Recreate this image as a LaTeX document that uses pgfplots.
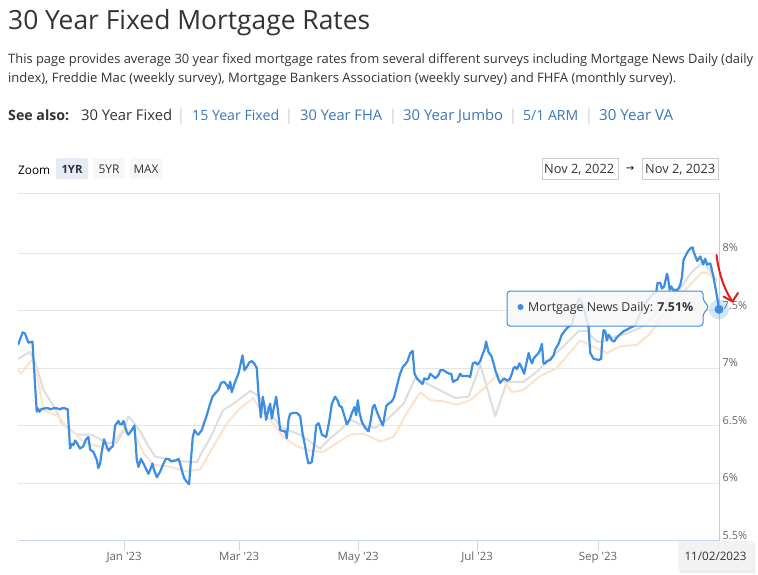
\documentclass[border=0pt]{standalone}
\usepackage{pgfplots}
\pgfplotsset{compat=1.18}
\usepackage{graphicx}
\usepackage{fontspec}
\setmainfont{Open Sans}
\newfontfamily\dejavu{DejaVu Sans}
\definecolor{mndblue}{RGB}{61,142,226}
\definecolor{fmgray}{RGB}{222,222,222}
\definecolor{mbaorange}{RGB}{253,226,204}
\definecolor{txt}{RGB}{51,51,51}
\definecolor{linkblue}{RGB}{60,120,180}
\definecolor{sepgray}{RGB}{204,204,204}
\definecolor{axisline}{RGB}{204,214,235}
\definecolor{gridc}{RGB}{230,230,230}
\definecolor{lbl}{RGB}{102,102,102}
\definecolor{btnsel}{RGB}{230,235,245}
\definecolor{btn}{RGB}{247,247,247}
\definecolor{tipfill}{RGB}{247,247,247}
\definecolor{datebox}{RGB}{242,242,242}
\definecolor{arrowred}{RGB}{222,30,30}
\newcommand{\fw}[2]{\resizebox{#1bp}{!}{#2}}
\pgfplotstableread{
x y
-54.4 7.20
-52.0 7.31
-50.8 7.30
-49.1 7.22
-47.0 7.23
-44.8 6.62
-44.3 6.65
-43.4 6.62
-42.7 6.64
-40.5 6.65
-38.8 6.65
-38.0 6.64
-36.2 6.65
-34.5 6.65
-32.8 6.64
-32.0 6.65
-30.3 6.65
-28.9 6.64
-27.7 6.30
-26.8 6.34
-26.0 6.33
-25.1 6.37
-24.3 6.35
-22.6 6.30
-20.9 6.32
-19.5 6.38
-18.3 6.40
-17.4 6.29
-15.7 6.27
-14.0 6.20
-13.2 6.13
-12.3 6.17
-11.5 6.27
-10.3 6.38
-9.2 6.33
-8.0 6.28
-7.2 6.30
-5.8 6.32
-4.6 6.50
-2.9 6.54
-2.1 6.51
-1.2 6.51
-0.3 6.54
0.5 6.49
1.4 6.44
2.2 6.42
3.9 6.46
5.3 6.50
6.5 6.20
7.4 6.14
8.6 6.21
9.9 6.17
11.6 6.11
12.5 6.08
13.7 6.13
14.5 6.17
15.4 6.11
16.8 6.05
18.5 6.10
20.2 6.17
21.5 6.21
22.7 6.21
23.9 6.19
25.3 6.19
27.0 6.20
27.9 6.21
28.7 6.17
29.9 6.09
30.9 6.04
32.1 6.01
33.3 5.99
34.4 6.23
35.2 6.40
36.1 6.46
37.3 6.43
38.1 6.42
39.8 6.46
41.0 6.52
42.4 6.59
44.1 6.69
45.3 6.75
46.7 6.78
48.4 6.81
49.7 6.87
51.3 6.88
52.7 6.85
53.5 6.82
54.4 6.88
55.2 6.79
56.9 6.88
58.6 6.95
59.8 7.04
60.7 7.11
61.7 6.98
62.9 7.01
64.3 7.05
65.5 7.06
66.7 7.04
68.0 7.00
68.9 6.78
70.1 6.57
71.1 6.75
72.0 6.66
72.8 6.55
74.0 6.64
74.9 6.69
75.7 6.56
76.6 6.64
78.0 6.75
78.8 6.64
80.0 6.46
81.7 6.45
82.6 6.45
83.4 6.39
84.3 6.55
85.1 6.60
86.8 6.61
88.6 6.61
90.3 6.58
91.5 6.43
92.8 6.32
93.7 6.23
94.5 6.17
96.2 6.18
97.6 6.35
98.5 6.50
99.7 6.52
100.5 6.48
101.4 6.42
103.6 6.40
105.3 6.55
106.5 6.69
108.2 6.75
109.4 6.72
110.4 6.67
111.6 6.66
113.0 6.58
114.2 6.51
115.6 6.55
116.8 6.61
118.1 6.66
119.0 6.59
119.8 6.72
120.7 6.61
121.9 6.53
123.6 6.48
125.3 6.45
126.5 6.55
127.5 6.66
128.4 6.68
129.6 6.62
131.3 6.55
132.7 6.50
133.5 6.58
134.4 6.67
135.6 6.69
137.3 6.71
138.5 6.75
139.8 6.84
141.5 6.95
142.9 7.01
144.1 7.03
145.3 7.06
146.7 7.13
147.9 7.15
148.9 6.95
150.1 6.91
151.8 6.88
153.0 6.86
153.9 6.91
155.2 6.90
156.1 6.91
156.9 6.95
158.3 6.93
159.5 6.91
161.2 6.94
162.1 6.98
163.8 6.98
165.5 6.96
166.8 6.95
167.7 6.95
168.6 6.88
169.7 6.89
170.9 6.90
172.3 6.95
173.2 6.93
174.0 6.93
175.4 6.93
176.6 6.93
177.4 6.92
178.8 7.04
180.0 7.05
181.2 7.03
182.6 7.06
183.8 7.12
184.8 7.16
185.6 7.23
186.8 7.14
188.4 7.10
189.4 7.04
190.5 6.97
192.0 6.90
192.8 6.87
193.7 6.89
194.9 6.91
196.2 6.89
197.6 6.90
198.8 6.95
199.7 7.00
200.5 7.01
201.4 6.99
202.7 7.04
203.9 7.00
205.1 6.95
206.5 7.06
207.4 7.13
208.2 7.08
209.1 7.04
209.9 7.08
211.3 7.11
212.5 7.13
213.3 7.16
214.2 7.21
215.0 7.04
215.9 7.04
216.8 7.06
218.5 7.07
220.2 7.11
221.0 7.16
222.7 7.21
224.4 7.29
226.2 7.33
227.9 7.36
229.6 7.38
231.3 7.50
233.0 7.60
234.5 7.58
236.0 7.50
237.4 7.40
238.1 7.36
239.0 7.13
240.7 7.08
243.3 7.07
244.6 7.08
245.0 7.21
245.8 7.33
246.7 7.32
247.5 7.24
248.4 7.29
249.2 7.27
250.1 7.24
251.3 7.23
252.3 7.26
253.5 7.28
254.7 7.30
256.1 7.32
257.4 7.33
259.5 7.35
262.1 7.37
264.6 7.48
268.0 7.58
271.5 7.65
272.8 7.66
273.5 7.74
274.9 7.74
275.7 7.69
276.9 7.71
278.3 7.82
278.8 7.79
279.7 7.68
280.5 7.71
281.4 7.68
282.6 7.68
283.8 7.68
285.1 7.72
286.0 7.79
286.8 7.94
287.7 7.97
288.9 8.01
290.3 8.04
291.5 8.05
291.8 8.02
293.8 7.93
295.4 7.97
296.9 7.90
297.9 7.95
298.9 7.90
300.5 7.91
302.1 7.80
304.1 7.61
305.0 7.51
}\mnd
\pgfplotstableread{
x y
-54.4 7.08
-48.2 7.14
-44.8 7.01
-41.4 6.81
-35.4 6.65
-32.0 6.52
-29.4 6.49
-24.3 6.42
-16.6 6.42
-13.2 6.39
-8.9 6.35
-3.8 6.35
-0.3 6.45
2.2 6.58
4.8 6.53
8.2 6.45
12.5 6.32
15.9 6.23
21.9 6.21
28.7 6.19
37.3 6.18
39.0 6.24
44.1 6.39
50.6 6.63
56.1 6.69
64.6 6.80
68.0 6.77
73.2 6.66
77.4 6.55
80.9 6.48
90.3 6.42
100.5 6.30
105.7 6.39
110.8 6.46
115.9 6.55
122.7 6.50
128.7 6.48
134.7 6.55
143.3 6.69
149.2 6.91
153.5 6.88
163.8 6.79
169.7 6.74
176.6 6.75
182.6 7.03
190.3 6.58
196.2 6.88
204.8 6.88
212.5 6.98
216.8 7.06
225.3 7.19
233.0 7.32
237.3 7.32
242.4 7.23
245.8 7.23
250.9 7.27
257.8 7.30
264.6 7.35
271.5 7.45
278.3 7.58
285.1 7.69
290.3 7.82
297.1 7.93
302.2 7.79
304.0 7.76
}\fmac
\pgfplotstableread{
x y
-54.4 7.00
-53.0 6.95
-47.4 7.07
-45.6 7.03
-41.4 6.64
-38.0 6.61
-33.7 6.58
-29.4 6.48
-25.1 6.43
-21.7 6.37
-16.6 6.33
-12.3 6.32
-7.2 6.28
-4.6 6.37
-0.3 6.47
4.8 6.45
9.9 6.26
15.0 6.16
23.6 6.14
32.1 6.10
39.0 6.12
42.4 6.22
52.7 6.52
59.5 6.65
66.3 6.74
69.7 6.64
74.9 6.55
81.7 6.40
88.6 6.32
95.4 6.28
102.2 6.27
107.4 6.33
115.9 6.42
122.7 6.43
131.3 6.36
138.1 6.40
145.0 6.61
151.8 6.79
156.9 6.72
163.8 6.71
170.6 6.68
177.4 6.72
184.3 6.82
192.0 6.95
198.8 6.79
204.8 6.81
213.3 6.93
221.9 7.00
233.8 7.24
247.5 7.13
254.4 7.19
262.9 7.20
269.7 7.30
276.0 7.45
283.0 7.60
290.0 7.72
296.0 7.83
300.0 7.82
303.0 7.75
}\mba
\begin{document}
\begin{tikzpicture}
\useasboundingbox (0,0) rectangle (758bp,-575bp);
\fill[white] (0,0) rectangle (758bp,-575bp);
% title and text
\node[anchor=base west, inner sep=0, text=txt] at (8bp,-30bp) {\fw{362}{\fontsize{26}{30}\selectfont 30 Year Fixed Mortgage Rates}};
\node[anchor=base west, inner sep=0, text=txt] at (8bp,-63bp) {\fw{745}{\fontsize{14}{17}\selectfont This page provides average 30 year fixed mortgage rates from several different surveys including Mortgage News Daily (daily}};
\node[anchor=base west, inner sep=0, text=txt] at (8bp,-82.5bp) {\fw{668}{\fontsize{14}{17}\selectfont index), Freddie Mac (weekly survey), Mortgage Bankers Association (weekly survey) and FHFA (monthly survey).}};
% see also
\node[anchor=base west, inner sep=0, text=txt] at (8bp,-120bp) {\fw{61}{\fontsize{15}{18}\selectfont\bfseries See also:}};
\node[anchor=base west, inner sep=0, text=txt] at (81bp,-120bp) {\fw{91}{\fontsize{15}{18}\selectfont 30 Year Fixed}};
\node[anchor=base west, inner sep=0, text=linkblue] at (192bp,-120bp) {\fw{87}{\fontsize{15}{18}\selectfont 15 Year Fixed}};
\node[anchor=base west, inner sep=0, text=linkblue] at (300bp,-120bp) {\fw{82}{\fontsize{15}{18}\selectfont 30 Year FHA}};
\node[anchor=base west, inner sep=0, text=linkblue] at (403bp,-120bp) {\fw{100}{\fontsize{15}{18}\selectfont 30 Year Jumbo}};
\node[anchor=base west, inner sep=0, text=linkblue] at (523bp,-120bp) {\fw{55}{\fontsize{15}{18}\selectfont 5/1 ARM}};
\node[anchor=base west, inner sep=0, text=linkblue] at (599bp,-120bp) {\fw{74}{\fontsize{15}{18}\selectfont 30 Year VA}};
\foreach \sx in {181,289,393,513,589}{
  \node[anchor=base, inner sep=0, text=sepgray, font=\fontsize{15}{18}\selectfont] at (\sx bp,-120bp) {|};
}
% zoom row
\node[anchor=base west, inner sep=0, text=black] at (18bp,-174bp) {\fw{32}{\fontsize{13}{16}\selectfont Zoom}};
\fill[btnsel, rounded corners=2bp] (56bp,-158bp) rectangle (88bp,-179bp);
\fill[btn, rounded corners=2bp] (93bp,-158bp) rectangle (125bp,-179bp);
\fill[btn, rounded corners=2bp] (130bp,-158bp) rectangle (162bp,-179bp);
\node[anchor=base, inner sep=0, text=txt] at (72bp,-173.5bp) {\fw{21}{\fontsize{13}{16}\selectfont\bfseries 1YR}};
\node[anchor=base, inner sep=0, text=txt] at (109bp,-173.5bp) {\fw{21}{\fontsize{13}{16}\selectfont 5YR}};
\node[anchor=base, inner sep=0, text=txt] at (146bp,-173.5bp) {\fw{25}{\fontsize{13}{16}\selectfont MAX}};
% date boxes
\draw[sepgray, line width=0.8bp] (542bp,-158bp) rectangle (618bp,-179bp);
\draw[sepgray, line width=0.8bp] (642bp,-158bp) rectangle (718bp,-179bp);
\node[anchor=base west, inner sep=0, text=txt] at (544bp,-173.5bp) {\fw{70}{\fontsize{13}{16}\selectfont Nov 2, 2022}};
\node[anchor=base west, inner sep=0, text=txt] at (645bp,-173.5bp) {\fw{70}{\fontsize{13}{16}\selectfont Nov 2, 2023}};
\node[inner sep=0, text=black] at (630bp,-169bp) {\dejavu\fontsize{10}{12}\selectfont →};
% separator
\draw[gridc, line width=1bp] (18bp,-193bp) -- (719bp,-193bp);
% chart
\begin{axis}[
  at={(18bp,-540.5bp)}, anchor=south west,
  width=701bp, height=347.3bp, scale only axis,
  xmin=-54.4, xmax=305, ymin=5.5, ymax=8.52,
  axis x line*=bottom, axis y line*=right,
  x axis line style={draw=axisline, line width=1bp, -},
  y axis line style={draw=sepgray, line width=1bp, -},
  xtick={0,59,120,181,243},
  xticklabels={Jan \textquotesingle23, Mar \textquotesingle23, May \textquotesingle23, Jul \textquotesingle23, Sep \textquotesingle23},
  xtick style={draw=axisline, line width=1bp},
  tick align=outside, major tick length=10bp,
  xticklabel style={font=\fontsize{11.5}{13}\selectfont, text=lbl, anchor=north, inner sep=0pt, yshift=-1.5bp},
  ytick={5.5,6,6.5,7,7.5,8},
  yticklabels={5.5\%,6\%,6.5\%,7\%,7.5\%,8\%},
  ytick style={draw=none},
  yticklabel style={font=\fontsize{11}{13}\selectfont, text=lbl, anchor=south west, inner sep=0pt, xshift=-6.5bp, yshift=1bp},
  ymajorgrids, grid style={gridc, line width=1bp},
  clip mode=individual,
]
\addplot[fmgray, line width=2bp, line join=round] table {\fmac};
\addplot[mbaorange, line width=2bp, line join=round] table {\mba};
\addplot[mndblue, line width=2.2bp, line join=round] table {\mnd};
\end{axis}
% tooltip
\draw[mndblue, line width=1bp, fill=tipfill, fill opacity=0.85, rounded corners=3bp]
  (507bp,-291bp) -- (703bp,-291bp) -- (703bp,-300bp) -- (709bp,-307bp) -- (703bp,-314bp) -- (703bp,-326bp) -- (507bp,-326bp) -- cycle;
\begin{axis}[
  at={(18bp,-540.5bp)}, anchor=south west,
  width=701bp, height=347.3bp, scale only axis,
  xmin=-54.4, xmax=305, ymin=5.5, ymax=8.52,
  hide axis, clip=false,
]
\addplot[color=mndblue, only marks, mark=*, mark size=10bp, mark options={fill=mndblue, fill opacity=0.22, draw opacity=0}] coordinates {(305,7.51)};
\addplot[color=mndblue, only marks, mark=*, mark size=4.2bp, mark options={fill=mndblue, draw=mndblue}] coordinates {(305,7.51)};
\end{axis}
\fill[mndblue] (520.5bp,-307bp) circle (3bp);
\node[anchor=base west, inner sep=0, text=txt] at (528bp,-311.5bp) {\fw{165}{\fontsize{13}{16}\selectfont Mortgage News Daily: \textbf{7.51\%}}};
% red hand arrow
\draw[arrowred, line width=2bp, line cap=round, line join=round] (716.5bp,-255bp) .. controls (719bp,-275bp) and (725bp,-291bp) .. (732.5bp,-301.5bp);
\draw[arrowred, line width=2bp, line cap=round, line join=round] (723.5bp,-296.5bp) -- (732.5bp,-301.5bp) -- (738bp,-293bp);
% date label box
\fill[black, opacity=0.07] (679.5bp,-542.5bp) rectangle (755bp,-573bp);
\fill[datebox] (678bp,-541bp) rectangle (753bp,-571bp);
\node[anchor=base, inner sep=0, text=txt] at (715.5bp,-560.5bp) {\fw{62}{\fontsize{12}{14}\selectfont 11/02/2023}};
\end{tikzpicture}
\end{document}
